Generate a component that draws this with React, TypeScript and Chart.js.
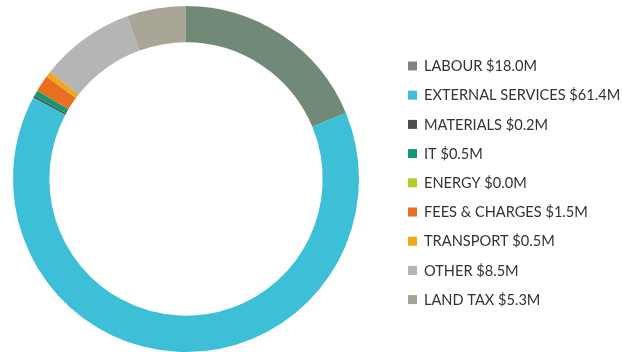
import React, { useEffect, useRef } from "react";
import { Chart, registerables } from "chart.js";

Chart.register(...registerables);

const categories = [
  "LABOUR",
  "EXTERNAL SERVICES",
  "MATERIALS",
  "IT",
  "ENERGY",
  "FEES & CHARGES",
  "TRANSPORT",
  "OTHER",
  "LAND TAX",
];
const values = [18.0, 61.4, 0.2, 0.5, 0.0, 1.5, 0.5, 8.5, 5.3];
const sliceColors = [
  "#718a77",
  "#3dbfd8",
  "#4a4f55",
  "#0f9873",
  "#b4cd2c",
  "#e6701f",
  "#f1a61b",
  "#b5b5b5",
  "#a9a697",
];
const legendColors = [
  "#7d8581",
  "#3dbfd8",
  "#4a4f55",
  "#0f9873",
  "#b4cd2c",
  "#e6701f",
  "#f1a61b",
  "#b5b5b5",
  "#a3a39a",
];

const legendPlugin = {
  id: "sideLegend",
  afterDraw(chart: any) {
    const ctx = chart.ctx as CanvasRenderingContext2D;
    const labels = chart.data.labels as string[];
    const data = chart.data.datasets[0].data as number[];
    const boxX = 408;
    const textX = 424;
    const firstY = 66;
    const step = 29.2;
    ctx.save();
    ctx.font = "14.6px Lato";
    ctx.textBaseline = "middle";
    ctx.textAlign = "left";
    labels.forEach((lab, i) => {
      const y = firstY + i * step;
      ctx.fillStyle = legendColors[i];
      ctx.fillRect(boxX, y - 4.5, 9, 9);
      ctx.fillStyle = "#333333";
      ctx.fillText(`${lab} $${data[i].toFixed(1)}M`, textX, y + 0.5);
    });
    ctx.restore();
  },
};

export default function App() {
  const ref = useRef<HTMLCanvasElement | null>(null);
  useEffect(() => {
    if (!ref.current) return;
    const chart = new Chart(ref.current, {
      type: "doughnut",
      data: {
        labels: categories,
        datasets: [
          {
            data: values,
            backgroundColor: sliceColors,
            borderWidth: 0,
          },
        ],
      },
      options: {
        responsive: false,
        maintainAspectRatio: false,
        animation: false,
        cutout: "79%",
        layout: { padding: { left: 13, top: 6, right: 263, bottom: 8 } },
        plugins: {
          legend: { display: false },
          tooltip: { enabled: false },
        },
      },
      plugins: [legendPlugin],
    });
    return () => chart.destroy();
  }, []);
  return (
    <div
      style={{
        position: "fixed",
        left: 0,
        top: 0,
        width: 622,
        height: 352,
        overflow: "hidden",
        background: "#fff",
      }}
    >
      <canvas ref={ref} width={622} height={360} />
    </div>
  );
}
